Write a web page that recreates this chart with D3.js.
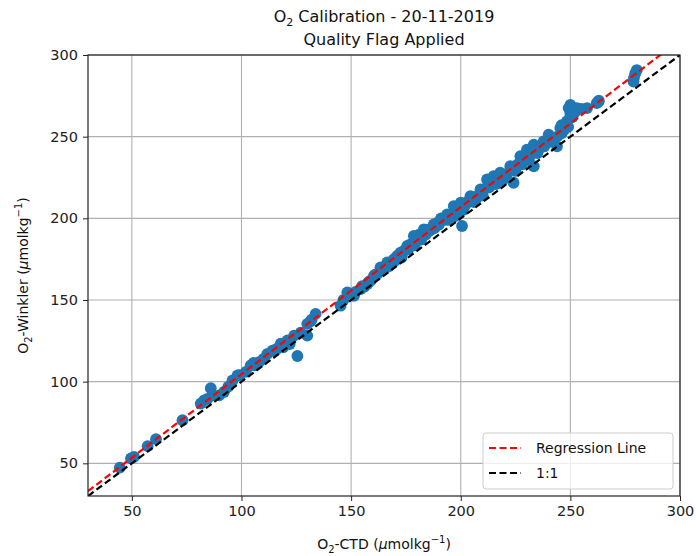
<!DOCTYPE html>
<html><head><meta charset="utf-8">
<script src="https://cdn.jsdelivr.net/npm/d3@7"></script>
<style>body{margin:0;background:#fff;} svg{display:block;font-family:"DejaVu Sans",sans-serif;}</style>
</head><body>
<script>
const ctd = [44.5,49.6,51,57.2,61,73.1,81.4,83,84.5,86,86.7,89.8,92,94,95.9,98.2,104.2,105.5,108,111.8,114.1,116,117.9,121,122,124,125.5,130,130,131.5,133.8,145.2,146.5,148.3,151.3,152,154.3,156,157.4,159,160.4,162,163.4,165,166.5,168,169.5,171,172.5,174,175.6,177,178.6,180,181,183.2,185,187.7,189,191,193.8,195,196.8,198,200.6,200,202,204.4,206,207,209,210,212,213,215,216,218,219,220,222.6,224.1,225,227.2,228,230.2,231,233.3,233.3,235,237.8,239.3,240.1,242,243.9,245.4,247,248.4,249.2,250,250,251,253,257.6,262,262.8,278.8,279.6,280.3,
  155,158,161,164,167,170,173,176,179,182,184,186,188,190,192,194,197,199,201,203,205,208,211,214,217,221,223,226,229,232,234,236,238,241,244,246,249,252,255,246,250,99,102,106,110,119,127,132,263,279];
const winkler = [47.4,53,54,60.5,64.8,76.4,86.6,88.6,89.5,96,91.6,91.6,93.7,97,100.8,103.8,110,111.5,112,117,119,120,123.2,125.2,123,128.2,115.7,128.2,135.4,137,141.5,146.5,150,154.7,152.6,155,156.7,158,159.8,162,164.8,166,170,169,173,172,175,177,179,180,183.1,184,189.2,188,190,193.3,193,196.3,197,200,202.4,201,207.5,203,195.3,209.6,208,213.6,210,212,217.7,214,223.8,219,225.8,221,227.9,223,226,231.9,221.8,229,238,233,242,236,245.1,231.9,240,247.1,246.2,251.2,248,244.1,255.3,254,259.3,267.5,264,269.5,262,267.5,267.5,270.5,271.5,283.7,288.8,290.8,
  158.5,161,165.5,168,170.5,174,176,181,183.5,187,190,192.5,194,196,199,199,201,204,205,210,211.5,214,218,221,224,227,230,233,236,239,242,243,244,247,250,252,256,265,267,257,262,104,106,110,114,121,130,138,272,286];
const xTicks = [50,100,150,200,250,300];
const yTicks = [50,100,150,200,250,300];
const regSlope = 1.023, regIntercept = 2.3;
const lineRange = [30,300];
const legendLabels = ["Regression Line","1:1"];

const W=696,H=556;
const m={l:88,r:680,t:55,b:496};
const svg=d3.select("body").append("svg").attr("width",W).attr("height",H);
const x=d3.scaleLinear().domain([30,300]).range([m.l,m.r]);
const y=d3.scaleLinear().domain([30,300]).range([m.b,m.t]);

svg.append("defs").append("clipPath").attr("id","clip").append("rect")
  .attr("x",m.l).attr("y",m.t).attr("width",m.r-m.l).attr("height",m.b-m.t);

// grid
const g=svg.append("g");
g.selectAll(".gx").data(xTicks).enter().append("line")
  .attr("x1",d=>x(d)).attr("x2",d=>x(d)).attr("y1",m.t).attr("y2",m.b)
  .attr("stroke","#b0b0b0").attr("stroke-width",1.1);
g.selectAll(".gy").data(yTicks).enter().append("line")
  .attr("y1",d=>y(d)).attr("y2",d=>y(d)).attr("x1",m.l).attr("x2",m.r)
  .attr("stroke","#b0b0b0").attr("stroke-width",1.1);

// points
const pts=svg.append("g").attr("clip-path","url(#clip)");
pts.selectAll("circle").data(ctd.map((d,i)=>[d,winkler[i]])).enter().append("circle")
  .attr("cx",d=>x(d[0])).attr("cy",d=>y(d[1])).attr("r",5.9).attr("fill","#1f77b4");

// lines
const lg=svg.append("g").attr("clip-path","url(#clip)");
lg.append("line").attr("x1",x(lineRange[0])).attr("y1",y(regSlope*lineRange[0]+regIntercept))
  .attr("x2",x(lineRange[1])).attr("y2",y(regSlope*lineRange[1]+regIntercept))
  .attr("stroke","red").attr("stroke-width",2.2).attr("stroke-dasharray","7,3.5");
lg.append("line").attr("x1",x(lineRange[0])).attr("y1",y(lineRange[0]))
  .attr("x2",x(lineRange[1])).attr("y2",y(lineRange[1]))
  .attr("stroke","black").attr("stroke-width",2.2).attr("stroke-dasharray","7,3.5");

// axes
const xa=svg.append("g").attr("transform",`translate(0,${m.b})`)
  .call(d3.axisBottom(x).tickValues(xTicks).tickSize(5).tickPadding(5));
const ya=svg.append("g").attr("transform",`translate(${m.l},0)`)
  .call(d3.axisLeft(y).tickValues(yTicks).tickSize(5).tickPadding(5));
[xa,ya].forEach(a=>{a.select(".domain").remove();
  a.selectAll("text").attr("font-size","14.5px").attr("fill","#222").attr("font-family","DejaVu Sans");
  a.selectAll("line").attr("stroke","#222").attr("stroke-width",1);});
svg.append("rect").attr("x",m.l).attr("y",m.t).attr("width",m.r-m.l).attr("height",m.b-m.t)
  .attr("fill","none").attr("stroke","#222").attr("stroke-width",1.2);

// title
const t1=svg.append("text").attr("x",(m.l+m.r)/2).attr("y",22).attr("text-anchor","middle")
  .attr("font-size","16px").attr("fill","#111");
t1.append("tspan").text("O");
t1.append("tspan").text("2").attr("font-size","11px").attr("dy",4);
t1.append("tspan").text(" Calibration - 20-11-2019").attr("dy",-4);
svg.append("text").attr("x",(m.l+m.r)/2).attr("y",45).attr("text-anchor","middle")
  .attr("font-size","16px").attr("fill","#111").text("Quality Flag Applied");

// x label
const xl=svg.append("text").attr("x",(m.l+m.r)/2).attr("y",549).attr("text-anchor","middle")
  .attr("font-size","14px").attr("fill","#111");
xl.append("tspan").text("O");
xl.append("tspan").text("2").attr("font-size","10px").attr("dy",4);
xl.append("tspan").text("-CTD (").attr("dy",-4);
xl.append("tspan").text("μ").attr("font-style","italic");
xl.append("tspan").text("molkg");
xl.append("tspan").text("−1").attr("font-size","10px").attr("dy",-6);
xl.append("tspan").text(")").attr("dy",6);

// y label
const yl=svg.append("text").attr("transform",`translate(28,${(m.t+m.b)/2}) rotate(-90)`)
  .attr("text-anchor","middle").attr("font-size","14px").attr("fill","#111");
yl.append("tspan").text("O");
yl.append("tspan").text("2").attr("font-size","10px").attr("dy",4);
yl.append("tspan").text("-Winkler (").attr("dy",-4);
yl.append("tspan").text("μ").attr("font-style","italic");
yl.append("tspan").text("molkg");
yl.append("tspan").text("−1").attr("font-size","10px").attr("dy",-6);
yl.append("tspan").text(")").attr("dy",6);

// legend
const leg=svg.append("g");
leg.append("rect").attr("x",483).attr("y",433).attr("width",190).attr("height",56).attr("rx",3)
  .attr("fill","white").attr("fill-opacity",0.8).attr("stroke","#ccc").attr("stroke-width",1);
const colors=["red","black"];
legendLabels.forEach((lab,i)=>{
  const yy=448+i*25;
  leg.append("line").attr("x1",489).attr("x2",521).attr("y1",yy).attr("y2",yy)
    .attr("stroke",colors[i]).attr("stroke-width",2.2).attr("stroke-dasharray","7,3.5");
  leg.append("text").attr("x",536).attr("y",yy+5).attr("font-size","14px").attr("fill","#111").text(lab);
});
</script>
</body></html>
